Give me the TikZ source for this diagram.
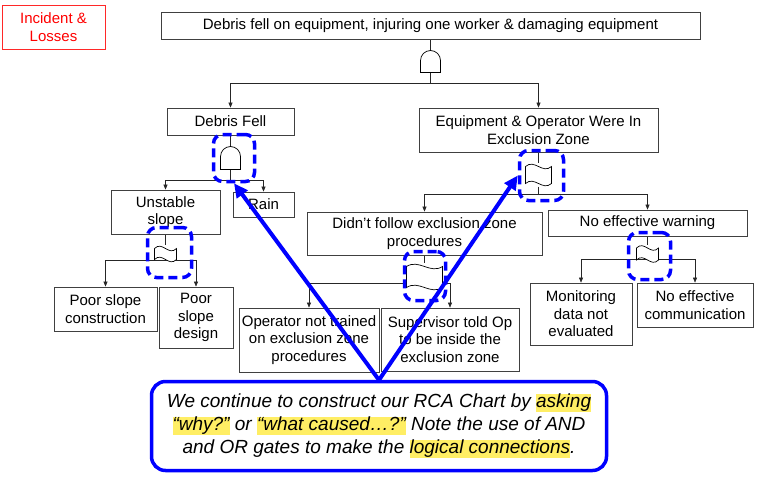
\documentclass[tikz,border=0pt]{standalone}
\usepackage{fontspec}
\setmainfont{Liberation Sans}
\usetikzlibrary{arrows.meta}
\usetikzlibrary{backgrounds}
\usetikzlibrary{calc}

\definecolor{boxgray}{RGB}{64,64,64}
\definecolor{markblue}{RGB}{0,0,255}
\definecolor{hlyellow}{RGB}{255,238,100}
\definecolor{lossred}{RGB}{255,40,40}
\newcommand{\hlword}[1]{{\setlength{\fboxsep}{0pt}\colorbox{hlyellow}{\rule[-4.5pt]{0pt}{18.5pt}#1}}}

\begin{document}
\begin{tikzpicture}[
  x=1pt, y=-1pt,
  every node/.style={font=\fontsize{15}{17.5}\selectfont},
  cause/.style  = {draw=boxgray, line width=0.8pt, fill=white, inner sep=0pt, align=center},
  lossbox/.style= {draw=lossred, line width=0.8pt, text=red, inner sep=0pt, align=center},
  andgate/.style= {inner sep=0pt, path picture={
      \filldraw[fill=white, draw=black, line width=0.7pt]
        let \p1=(path picture bounding box.south west), \p2=(path picture bounding box.north east),
            \n1={(\x2-\x1)/2-0.5pt} in
        (\x1+0.5pt,\y1+0.5pt) -- (\x1+0.5pt,\y2-\n1-0.5pt)
        arc[start angle=180, end angle=0, radius=\n1] -- (\x2-0.5pt,\y1+0.5pt) -- cycle;}},
  orgate/.style = {inner sep=0pt, path picture={
      \filldraw[fill=white, draw=black, line width=0.7pt]
        let \p1=(path picture bounding box.south west), \p2=(path picture bounding box.north east),
            \n1={(\x2-\x1)/3} in
        (\x1+0.5pt,\y2-3pt) .. controls +(\n1,8pt) and +(-\n1,-8pt) .. (\x2-0.5pt,\y2-3pt)
        -- (\x2-0.5pt,\y1+3pt) .. controls +(-\n1,-8pt) and +(\n1,8pt) .. (\x1+0.5pt,\y1+3pt) -- cycle;}},
  hilite/.style = {draw=markblue, line width=3.5pt, dash pattern=on 9pt off 5pt, rounded corners=9pt, inner sep=0pt},
  note/.style   = {draw=markblue, line width=3.5pt, rounded corners=14pt, fill=white, align=center,
                   inner sep=0pt, font=\fontsize{19}{23}\selectfont\itshape},
  conn/.style   = {draw=black!85, line width=0.5pt},
  arr/.style    = {conn, -{Triangle[length=5pt, width=4pt]}},
  pointer/.style= {draw=markblue, line width=4pt, -{Triangle[length=14pt, width=13pt]}}
]
  \useasboundingbox (0,0) rectangle (759,479);

  % event boxes
  \node[lossbox, minimum width=103pt, minimum height=44pt] (loss) at (53.5,27) {Incident \&\\Losses};
  \node[cause, minimum width=539pt, minimum height=27pt] (top) at (430.5,25.5)
    {Debris fell on equipment, injuring one worker \& damaging equipment};
  \node[cause, minimum width=127pt, minimum height=27pt] (debris)  at (230.5,121.5) {Debris Fell};
  \node[cause, minimum width=239pt, minimum height=44pt] (equip)   at (538.5,130) {Equipment \& Operator Were In\\Exclusion Zone};
  \node[cause, minimum width=109pt, minimum height=44pt] (unstable) at (165.5,212) {Unstable\\slope};
  \node[cause, minimum width=61pt,  minimum height=25pt] (rain)    at (263.5,204.5) {Rain};
  \node[cause, minimum width=235pt, minimum height=43pt] (nofollow) at (424.5,233.5) {Didn’t follow exclusion zone\\procedures};
  \node[cause, minimum width=199pt, minimum height=26pt] (nowarn)  at (647.5,223) {No effective warning};
  \node[cause, minimum width=103pt, minimum height=44pt] (poorcon) at (105.5,309) {Poor slope\\construction};
  \node[cause, minimum width=74pt,  minimum height=61pt] (poordes) at (196,317.5) {Poor\\slope\\design};
  \node[cause, minimum width=140pt, minimum height=64pt] (notrain) at (309,340) {Operator not trained\\on exclusion zone\\procedures};
  \node[cause, minimum width=138pt, minimum height=63pt] (supvis)  at (450,339.5) {Supervisor told Op\\to be inside the\\exclusion zone};
  \node[cause, minimum width=102pt, minimum height=62pt] (monitor) at (581,314) {Monitoring\\data not\\evaluated};
  \node[cause, minimum width=116pt, minimum height=44pt] (nocomm)  at (695,305) {No effective\\communication};

  % gates
  \node[andgate, minimum width=21pt, minimum height=23pt] (g0) at (430.5,61.5) {};
  \node[andgate, minimum width=21pt, minimum height=24pt] (g1) at (230.5,158) {};
  \node[orgate,  minimum width=23pt, minimum height=17pt] (g2) at (165.5,254) {};
  \node[orgate,  minimum width=27pt, minimum height=23pt] (g3) at (538.5,175) {};
  \node[orgate,  minimum width=37pt, minimum height=27pt] (g4) at (424.5,277) {};
  \node[orgate,  minimum width=23pt, minimum height=18pt] (g5) at (647.5,254) {};

  % junctions
  \coordinate (j0) at (430.5,83);
  \coordinate (j1) at (230.5,180);
  \coordinate (j2) at (165.5,260);
  \coordinate (j3) at (538.5,194);
  \coordinate (j4) at (424.5,283);
  \coordinate (j5) at (647.5,259);

  \begin{scope}[on background layer]
    \draw[conn] (top.south) -- (g0.north);
    \draw[conn] (g0.south) -- (j0);
    \draw[arr] (j0) -| (debris.north);
    \draw[arr] (j0) -| (equip.north);
    \draw[conn] (debris.south) -- (g1.north);
    \draw[conn] (g1.south) -- (j1);
    \draw[arr] (j1) -| (unstable.north);
    \draw[arr] (j1) -| (rain.north);
    \draw[conn] (unstable.south) -- (g2.north);
    \draw[arr] (j2) -| (poorcon.north);
    \draw[arr] (j2) -| (poordes.north);
    \draw[conn] (equip.south) -- (g3.north);
    \draw[conn] (g3.south) -- (j3);
    \draw[arr] (j3) -| (nofollow.north);
    \draw[arr] (j3) -| (nowarn.north);
    \draw[conn] (nofollow.south) -- (g4.north);
    \draw[arr] (j4) -| (notrain.north);
    \draw[arr] (j4) -| (supvis.north);
    \draw[conn] (nowarn.south) -- (g5.north);
    \draw[arr] (j5) -| (monitor.north);
    \draw[arr] (j5) -| (nocomm.north);
  \end{scope}

  % highlighted gates
  \node[hilite, minimum width=41pt, minimum height=47pt] (h1) at (234,158) {};
  \node[hilite, minimum width=44pt, minimum height=50pt] (h2) at (169.5,252.5) {};
  \node[hilite, minimum width=44pt, minimum height=50pt] (h3) at (541.5,175.5) {};
  \node[hilite, minimum width=41pt, minimum height=49pt] (h4) at (425,276) {};
  \node[hilite, minimum width=42pt, minimum height=47pt] (h5) at (649.5,256) {};

  % callout
  \coordinate (ntop) at (379,380);
  \draw[pointer] (ntop) -- (h1.south);
  \draw[pointer] (ntop) -- (h3.west);
  \node[note, minimum width=455pt, minimum height=89pt] (note) at (379,426)
    {We continue to construct our RCA Chart by \hlword{asking}\\
     \hlword{“why?”} or \hlword{“what caused…?”} Note the use of AND\\
     and OR gates to make the \hlword{logical connections}.};
\end{tikzpicture}
\end{document}
